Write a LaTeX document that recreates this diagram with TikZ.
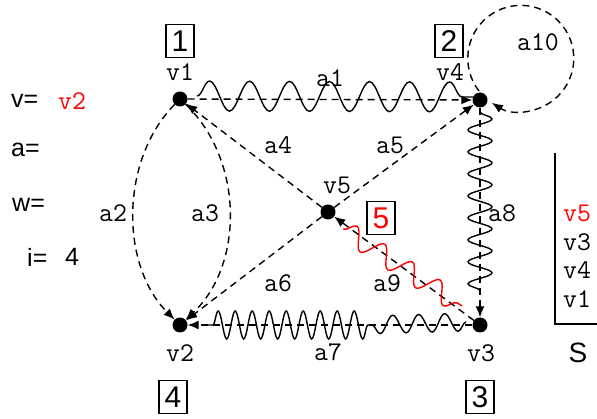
\documentclass[tikz,border=0pt]{standalone}
\usepackage{fontspec}
\setmainfont{Liberation Sans}
\usetikzlibrary{arrows.meta,decorations.pathmorphing}
\begin{document}
\begin{tikzpicture}[x=1pt,y=-1pt,
  vert/.style={circle,fill=black,inner sep=0pt,minimum size=15pt},
  mono/.style={font=\fontsize{27}{27}\selectfont\ttfamily,inner sep=0pt},
  sans/.style={font=\fontsize{25}{25}\selectfont,inner sep=0pt},
  numbox/.style={draw,line width=1.1pt,minimum width=28pt,minimum height=33pt,inner sep=0pt,font=\fontsize{30}{30}\selectfont},
  edgeline/.style={dash pattern=on 7pt off 5pt,line width=1.4pt,-{Latex[length=11pt,width=9pt]}},
  wig/.style 2 args={line width=1.4pt,decorate,decoration={snake,amplitude=#1,segment length=#2}}
]
\useasboundingbox (0,0) rectangle (597,419);

% vertices
\node[vert] (v1) at (180,99) {};
\node[vert] (v4) at (480,100) {};
\node[vert] (v5) at (328,212) {};
\node[vert] (v2) at (180,325) {};
\node[vert] (v3) at (480,325) {};

% vertex labels
\node[mono] (lv1) at (180,72) {v1};
\node[mono] (lv4) at (450,72) {v4};
\node[mono] (lv5) at (337,185) {v5};
\node[mono] (lv2) at (180,353) {v2};
\node[mono] (lv3) at (481,353) {v3};

% numbered boxes
\node[numbox] (b1) at (180,41) {1};
\node[numbox] (b2) at (449,41) {2};
\node[numbox] (b3) at (480,397) {3};
\node[numbox] (b4) at (173,397) {4};
\node[numbox,text=red] (b5) at (381,218) {5};

% edges
\draw[edgeline] (v1) -- (v4);
\draw[edgeline] (v1) .. controls (120,160) and (120,265) .. (v2);
\draw[edgeline] (v1) .. controls (244,160) and (244,265) .. (v2);
\draw[edgeline] (v5) -- (v1);
\draw[edgeline] (v5) -- (v4);
\draw[edgeline] (v5) -- (v2);
\draw[edgeline] (v3) -- (v2);
\draw[edgeline] (v4) -- (v3);
\draw[edgeline] (v3) -- (v5);
\coordinate (lc) at (521,58);
\coordinate (ls) at (479,91);
\draw[edgeline] (ls) arc[start angle=-218,end angle=123,radius=53];

% wiggles
\coordinate (w1a) at (197,96);
\coordinate (w1b) at (473,97);
\draw[wig={15pt}{40pt}] (w1a) -- (w1b);
\coordinate (w8a) at (480,112);
\coordinate (w8b) at (480,292);
\draw[wig={12pt}{22pt}] (w8a) -- (w8b);
\coordinate (w7a) at (466,322);
\coordinate (w7m) at (368,325);
\coordinate (w7b) at (208,325);
\draw[wig={9pt}{26pt}] (w7a) -- (w7m);
\draw[wig={14pt}{17pt}] (w7m) -- (w7b);
\coordinate (w9a) at (343,229);
\coordinate (w9b) at (462,306);
\draw[wig={10pt}{33pt},red] (w9a) -- (w9b);

% edge labels
\node[mono] (a1) at (330,78) {a1};
\node[mono] (a2) at (113,213) {a2};
\node[mono] (a3) at (205,213) {a3};
\node[mono] (a4) at (278,145) {a4};
\node[mono] (a5) at (390,145) {a5};
\node[mono] (a6) at (278,283) {a6};
\node[mono] (a7) at (328,352) {a7};
\node[mono] (a8) at (502,213) {a8};
\node[mono] (a9) at (387,283) {a9};
\node[mono] (a10) at (538,42) {a10};

% left variables
\node[sans,anchor=west] (tv) at (11,101) {v=};
\node[mono,text=red] (tvv) at (72,101) {v2};
\node[sans,anchor=west] (ta) at (11,150) {a=};
\node[sans,anchor=west] (tw) at (12,205) {w=};
\node[sans,anchor=west] (ti) at (27,257) {i=};
\node[sans] (tiv) at (72,257) {4};

% stack
\coordinate (st) at (555,153);
\coordinate (sc) at (555,324);
\coordinate (se) at (597,324);
\draw[line width=2.8pt] (st) -- (sc) -- (se);
\node[mono,text=red] (s1) at (577,213) {v5};
\node[mono] (s2) at (577,242) {v3};
\node[mono] (s3) at (577,270) {v4};
\node[mono] (s4) at (577,299) {v1};
\node[font=\fontsize{28}{28}\selectfont,inner sep=0pt] (sS) at (578,353) {S};
\end{tikzpicture}
\end{document}
